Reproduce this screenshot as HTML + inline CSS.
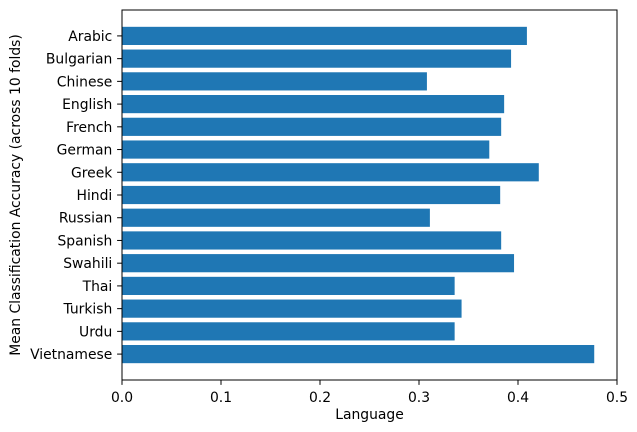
<!DOCTYPE html>
<html><head><meta charset="utf-8"><style>
body{margin:0;background:#fff;}
svg{display:block;font-family:"DejaVu Sans","Liberation Sans",sans-serif;}
</style></head><body>
<svg id="chart" width="637" height="432"></svg>
<script>
const categories=["Arabic","Bulgarian","Chinese","English","French","German","Greek","Hindi","Russian","Spanish","Swahili","Thai","Turkish","Urdu","Vietnamese"];
const values=[0.409,0.393,0.308,0.386,0.383,0.371,0.421,0.382,0.311,0.383,0.396,0.336,0.343,0.336,0.477];
const xTicks=[0,0.1,0.2,0.3,0.4,0.5];
const xTickLabels=["0.0","0.1","0.2","0.3","0.4","0.5"];
const NS="http://www.w3.org/2000/svg";
const svg=document.getElementById('chart');
const L=122,R=617,T=10,B=380;
const FS=13.9;
const n=categories.length;
const ymin=-0.4-0.74, ymax=n-1+0.4+0.74;
const xs=v=>L+(v-0)/(0.5-0)*(R-L);
const ys=i=>T+(i-ymin)/(ymax-ymin)*(B-T);
function el(tag,attrs,parent){const e=document.createElementNS(NS,tag);for(const k in attrs)e.setAttribute(k,attrs[k]);(parent||svg).appendChild(e);return e;}
const bars=el('g',{});


categories.forEach((c,i)=>{
  const y0=ys(i-0.4),y1=ys(i+0.4);
  const r=el('rect',{x:xs(0),y:y0,width:xs(values[i])-xs(0),height:y1-y0,fill:'#1f77b4'},bars);
  
  
  const t=el('line',{x1:L,x2:L-4.9,y1:ys(i),y2:ys(i),stroke:'#000','stroke-width':1});
  
  
  const lb=el('text',{x:L-9.7,y:ys(i)+5,'text-anchor':'end','font-size':FS,fill:'#000'});
  lb.textContent=c;
  
  
});
xTicks.forEach((v,i)=>{
  const t=el('line',{x1:xs(v),x2:xs(v),y1:B,y2:B+4.9,stroke:'#000','stroke-width':1});
  
  
  const lb=el('text',{x:xs(v),y:B+22,'text-anchor':'middle','font-size':FS,fill:'#000'});
  lb.textContent=xTickLabels[i];
  
  
});
const frame=el('rect',{x:L,y:T,width:R-L,height:B-T,fill:'none',stroke:'#000','stroke-width':1});


const xt=el('text',{x:(L+R)/2,y:419,'text-anchor':'middle','font-size':FS});
xt.textContent='Language';


const yt=el('text',{x:0,y:0,'text-anchor':'middle','font-size':FS,transform:`translate(20,${(T+B)/2}) rotate(-90)`});
yt.textContent='Mean Classification Accuracy (across 10 folds)';


</script>
</body></html>
